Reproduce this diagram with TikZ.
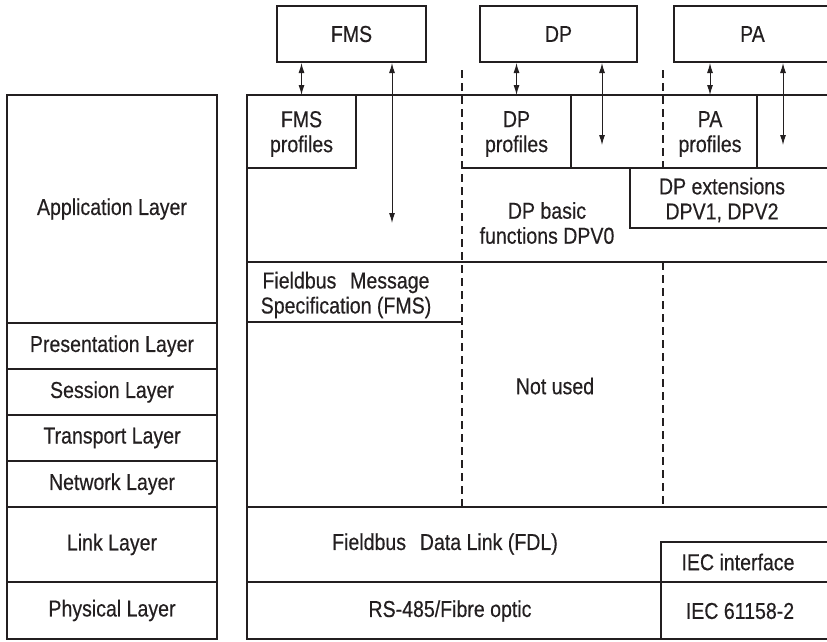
\documentclass[tikz,border=0pt]{standalone}
\usepackage{fontspec}
\setmainfont{Liberation Sans}[FakeStretch=0.85, FakeBold=0.4]
\usetikzlibrary{arrows.meta}
\definecolor{Strich}{HTML}{231F20}

\tikzset{
  linie/.style={line width=2.3pt, draw=Strich},
  strichlinie/.style={line width=2.3pt, draw=Strich, dash pattern=on 8pt off 5pt},
  kasten/.style={draw=Strich, line width=2pt, minimum height=56pt, inner sep=0pt},
  schicht/.style={draw=Strich, line width=2.3pt, minimum width=210pt, inner sep=0pt, align=center, text=Strich},
  txt/.style={align=center, inner sep=0pt, text=Strich},
  pfeil/.style={{Latex[length=10pt,width=6pt]}-{Latex[length=10pt,width=6pt]}, line width=1pt, draw=Strich}
}

\begin{document}
\begin{tikzpicture}[x=1pt, y=-1pt, font=\fontsize{23}{25}\selectfont]
    \useasboundingbox (0,0) rectangle (827,641);
    \clip (0,0) rectangle (827,641);

    % OSI-Schichten links
    \node[schicht, minimum height=228pt] (appl) at (112,209) {Application Layer};
    \node[schicht, minimum height=46pt] (pres) at (112,346) {Presentation Layer};
    \node[schicht, minimum height=46pt] (sess) at (112,392) {Session Layer};
    \node[schicht, minimum height=46pt] (trans) at (112,438) {Transport Layer};
    \node[schicht, minimum height=46pt] (netw) at (112,484) {Network Layer};
    \node[schicht, minimum height=75pt] (link) at (112,544.5) {Link Layer};
    \node[schicht, minimum height=57pt] (phys) at (112,610.5) {Physical Layer};

    % Profile oben
    \node[kasten, minimum width=149pt, txt] (fms) at (351.5,34) {FMS};
    \node[kasten, minimum width=157pt, txt] (dp) at (558.5,34) {DP};
    \node[kasten, minimum width=157pt, txt] (pa) at (752.5,34) {PA};

    % Rahmen und Linien rechts
    \draw[linie] (830,95) -- (247,95) -- (247,639) -- (830,639);
    \draw[linie] (247,262) -- (830,262);
    \draw[linie] (247,507) -- (830,507);
    \draw[linie] (247,582) -- (830,582);
    \draw[linie] (247,168) -- (356,168) -- (356,95);
    \draw[linie] (247,322) -- (462,322);
    \draw[linie] (462,168) -- (830,168);
    \draw[linie] (571,95) -- (571,168);
    \draw[linie] (757,95) -- (757,168);
    \draw[linie] (830,228) -- (630,228) -- (630,168);
    \draw[linie] (830,542) -- (661,542) -- (661,639);
    \draw[strichlinie] (462,70) -- (462,507);
    \draw[strichlinie] (663,70) -- (663,168);
    \draw[strichlinie] (663,262) -- (663,507);

    % Beschriftungen rechts
    \node[txt] (fmsprof) at (301.5,134) {FMS\\profiles};
    \node[txt] (dpprof) at (516.5,134) {DP\\profiles};
    \node[txt] (paprof) at (710,134) {PA\\profiles};
    \node[txt] (dpbasic) at (547,223) {DP basic\\functions DPV0};
    \node[txt] (dpext) at (722,200) {DP extensions\\DPV1, DPV2};
    \node[txt] (fmsspec) at (346,295) {Fieldbus\hspace{0.6em}Message\\Specification (FMS)};
    \node[txt] (notused) at (555,386) {Not used};
    \node[txt] (fdl) at (445,544) {Fieldbus\hspace{0.6em}Data Link (FDL)};
    \node[txt] (rs) at (450,611) {RS-485/Fibre optic};
    \node[txt] (iecif) at (738,562) {IEC interface};
    \node[txt] (iec) at (740,611) {IEC 61158-2};

    % Pfeile
    \coordinate (oben) at (247,95);
    \coordinate (fmsend) at (392,223);
    \coordinate (dpend) at (602,145);
    \coordinate (paend) at (783,145);
    \draw[pfeil] (fms.south -| fmsprof) -- (fmsprof |- oben);
    \draw[pfeil] (dp.south -| dpprof) -- (dpprof |- oben);
    \draw[pfeil] (pa.south -| paprof) -- (paprof |- oben);
    \draw[pfeil] (fms.south -| fmsend) -- (fmsend);
    \draw[pfeil] (dp.south -| dpend) -- (dpend);
    \draw[pfeil] (pa.south -| paend) -- (paend);
\end{tikzpicture}
\end{document}
